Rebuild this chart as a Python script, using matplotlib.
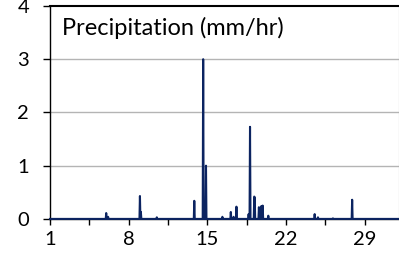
import matplotlib.pyplot as plt
import numpy as np

plt.rcParams['font.family'] = ['Lato', 'DejaVu Sans']

# hourly precipitation for one month (744 hours); only wet hours listed
n_hours = 744
wet_hours = [120, 124, 192, 194, 228, 308, 327, 333, 368, 386, 392, 398,
             424, 427, 436, 437, 446, 451, 454, 466, 565, 572, 604, 645]
wet_values = [0.11, 0.04, 0.43, 0.13, 0.03, 0.34, 3.0, 1.0, 0.04, 0.13, 0.04, 0.23,
              0.09, 1.73, 0.42, 0.40, 0.22, 0.24, 0.25, 0.06, 0.09, 0.03, 0.01, 0.36]

xtick_vals = [1, 8, 15, 22, 29]
ytick_vals = [0, 1, 2, 3, 4]

precip = np.zeros(n_hours)
precip[wet_hours] = wet_values
day = 1 + np.arange(n_hours) / 24.0

fig = plt.figure(figsize=(3.99, 2.60), dpi=100)
ax = fig.add_axes([0.1253, 0.158, 0.8735, 0.819])

for v in ytick_vals[1:-1]:
    ax.axhline(v, color='#b4b4b4', lw=1.0, zorder=1)

ax.plot(day, precip, color='#0c2461', lw=1.5, zorder=3, clip_on=False)

ax.set_xlim(1, 32)
ax.set_ylim(0, 4)
ax.set_xticks(xtick_vals)
ax.set_xticks(np.arange(1, 32, 3.5), minor=True)
ax.set_yticks(ytick_vals)

ax.spines['left'].set_color('black')
ax.spines['left'].set_linewidth(1.0)
ax.spines['top'].set_color('black')
ax.spines['top'].set_linewidth(1.5)
ax.spines['right'].set_color('#a0a0a0')
ax.spines['right'].set_linewidth(0.8)
ax.spines['bottom'].set_color('black')
ax.spines['bottom'].set_linewidth(1.0)

ax.tick_params(axis='y', direction='out', length=5, width=1.0, pad=10,
               labelsize=14.5)
ax.tick_params(axis='x', which='both', direction='out', length=4, width=1.0,
               pad=5, labelsize=14.5)
ax.tick_params(axis='x', which='minor', labelbottom=False)

ax.text(0.034, 0.895, 'Precipitation (mm/hr)', transform=ax.transAxes,
        fontsize=17, ha='left', va='center')

fig.savefig('out.png', dpi=100)
